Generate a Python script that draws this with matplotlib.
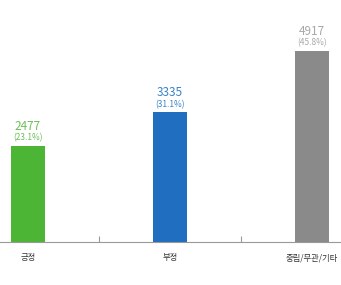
import matplotlib
matplotlib.use("Agg")
import matplotlib.pyplot as plt
from matplotlib.ticker import FixedLocator

plt.rcParams['font.family'] = ['Noto Sans CJK KR', 'DejaVu Sans']

categories = ['긍정', '부정', '중립/무관/기타']
values = [2477, 3335, 4917]
percents = ['(23.1%)', '(31.1%)', '(45.8%)']
bar_colors = ['#4cb535', '#1f6ebf', '#8a8a8a']
text_colors = ['#6cbf55', '#3a82c8', '#a8a8a8']

fig = plt.figure(figsize=(3.41, 2.85), dpi=100)
ax = fig.add_axes([0, 43/285, 1, 242/285])
x = range(len(categories))
ax.bar(x, values, width=0.24, color=bar_colors)
for i, (v, p) in enumerate(zip(values, percents)):
    ax.annotate(str(v), (i, v), xytext=(0, 9.5), textcoords='offset points',
                ha='center', va='bottom', color=text_colors[i], fontsize=8.5)
    ax.annotate(p, (i, v), xytext=(0, 2.5), textcoords='offset points',
                ha='center', va='bottom', color=text_colors[i], fontsize=6)

ax.set_xlim(-0.197, 2.204)
ax.set_ylim(0, 6230)
ax.set_xticks(list(x))
ax.set_xticklabels(categories, fontsize=6, color='#333333')
ax.tick_params(axis='x', which='major', length=0, pad=8)
ax.xaxis.set_minor_locator(FixedLocator([0.5, 1.5]))
ax.tick_params(axis='x', which='minor', length=4, direction='in', color='#999999', width=0.8)
ax.set_yticks([])
for s in ['top', 'left', 'right']:
    ax.spines[s].set_visible(False)
ax.spines['bottom'].set_color('#999999')
ax.spines['bottom'].set_linewidth(0.8)
ax.patch.set_alpha(0)
fig.savefig('out.png', dpi=100)
